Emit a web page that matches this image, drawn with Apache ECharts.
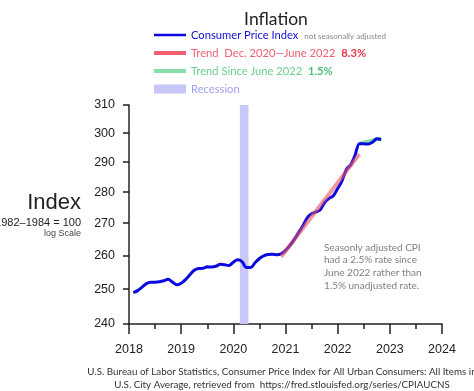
<!DOCTYPE html>
<html>
<head>
<meta charset="utf-8">
<script src="https://cdn.jsdelivr.net/npm/echarts@6/dist/echarts.min.js"></script>
<style>
html,body{margin:0;padding:0;background:#fff;}
#chart{width:474px;height:391px;}
</style>
</head>
<body>
<div id="chart"></div>
<script>
// ---- data ----
const cpiStart = [2018, 2]; // Feb 2018, monthly
const cpiValues = [
  248.991, 249.554, 250.546, 251.588, 251.989, 252.006, 252.146, 252.439, 252.885, 252.038, 251.233,
  251.712, 252.776, 254.202, 255.548, 256.092, 256.143, 256.571, 256.558, 256.759, 257.346, 257.208, 256.974,
  257.971, 258.678, 258.115, 256.389, 256.394, 257.797, 259.101, 259.918, 260.280, 260.388, 260.229, 260.474,
  261.582, 263.014, 264.877, 267.054, 269.195, 271.696, 273.003, 273.567, 274.310, 276.589, 277.948, 278.802,
  281.148, 283.716, 287.504, 289.109, 292.296, 296.311, 296.276, 296.171, 296.808, 298.012, 297.711
];
const trendRedMonths = ['2020-12', '2022-06'];
const trendRedValues = [259.6, 292.7];
const trendGreenMonths = ['2022-06', '2022-11'];
const trendGreenValues = [296.3, 298.1];
const recessionMonths = ['2020-02', '2020-04'];
const xTicks = [2018, 2019, 2020, 2021, 2022, 2023, 2024];
const yTicks = [240, 250, 260, 270, 280, 290, 300, 310];

// ---- helpers ----
const monthToYear = (s) => { const [y, m] = s.split('-').map(Number); return y + (m - 1) / 12; };
const cpiData = cpiValues.map((v, i) => [cpiStart[0] + (cpiStart[1] - 1 + i) / 12, Math.log(v)]);
const redData = trendRedMonths.map((m, i) => [monthToYear(m), Math.log(trendRedValues[i])]);
const greenData = trendGreenMonths.map((m, i) => [monthToYear(m), Math.log(trendGreenValues[i])]);
const recStart = monthToYear(recessionMonths[0]) + 0.5 / 12;
const recEnd = monthToYear(recessionMonths[1]) + 0.5 / 12;

const FONT_LEG = 'Lato';
const FONT_AX = 'Liberation Sans';
const LEG_FS = 11.2;

function mkLegend(name, top, h, rich, fmt) {
  return {
    data: [name], left: 154, top: top, orient: 'vertical',
    icon: 'rect', itemWidth: 32, itemHeight: h, itemGap: 0, padding: 0,
    selectedMode: false,
    formatter: fmt,
    textStyle: { fontFamily: FONT_LEG, fontSize: LEG_FS, lineHeight: 14, rich: rich }
  };
}

const chart = echarts.init(document.getElementById('chart'), null, { renderer: 'canvas' });
chart.setOption({
  animation: false,
  backgroundColor: '#fff',
  title: {
    text: 'Inflation', left: 271, top: 5, textAlign: 'center',
    textStyle: { fontFamily: FONT_LEG, fontSize: 17.5, fontWeight: 'normal', color: '#222' }
  },
  legend: [
    mkLegend('Consumer Price Index', 28, 2.5, {
      a: { fontFamily: FONT_LEG, fontSize: LEG_FS, color: '#1010d8' },
      b: { fontFamily: FONT_LEG, fontSize: 8, color: '#888', padding: [2, 0, 0, 3] }
    }, () => '{a|Consumer Price Index} {b|not seasonally adjusted}'),
    mkLegend('Trend  Dec. 2020—June 2022', 46, 4, {
      a: { fontFamily: FONT_LEG, fontSize: LEG_FS, color: '#f06070' },
      b: { fontFamily: FONT_LEG, fontSize: LEG_FS, color: '#e83848', fontWeight: 'bold' }
    }, () => '{a|Trend  Dec. 2020—June 2022}  {b|8.3%}'),
    mkLegend('Trend Since June 2022', 64, 4, {
      a: { fontFamily: FONT_LEG, fontSize: LEG_FS, color: '#6ccf90' },
      b: { fontFamily: FONT_LEG, fontSize: LEG_FS, color: '#50c078', fontWeight: 'bold' }
    }, () => '{a|Trend Since June 2022}  {b|1.5%}'),
    mkLegend('Recession', 82, 9, {
      a: { fontFamily: FONT_LEG, fontSize: LEG_FS, color: '#a0a0f0' }
    }, () => '{a|Recession}')
  ],
  grid: { left: 129, right: 32, top: 105, bottom: 67 },
  xAxis: {
    type: 'value', min: 2018, max: 2024, interval: 1,
    axisLine: { show: true, lineStyle: { color: '#222', width: 1.5 } },
    axisTick: { show: true, length: 10, lineStyle: { color: '#222', width: 1.5 } },
    minorTick: { show: true, splitNumber: 2, length: 5, lineStyle: { color: '#222', width: 1.5 } },
    splitLine: { show: false },
    axisLabel: {
      margin: 19, fontFamily: FONT_AX, fontSize: 12.5, color: '#222',
      customValues: xTicks, formatter: (v) => String(Math.round(v))
    }
  },
  yAxis: {
    type: 'value', min: Math.log(yTicks[0]), max: Math.log(yTicks[yTicks.length - 1]),
    axisLine: { show: true, lineStyle: { color: '#222', width: 1.5 } },
    axisTick: { show: true, length: 6, customValues: yTicks.map(Math.log), lineStyle: { color: '#222', width: 1.5 } },
    splitLine: { show: false },
    axisLabel: {
      margin: 14, fontFamily: FONT_AX, fontSize: 12.5, color: '#222',
      customValues: yTicks.map(Math.log), formatter: (v) => String(Math.round(Math.exp(v)))
    }
  },
  series: [
    {
      name: 'Recession', type: 'line', data: [], color: '#c8c8f8',
      markArea: { silent: true, itemStyle: { color: '#c8c8f8' },
        data: [[{ xAxis: recStart }, { xAxis: recEnd }]] }
    },
    {
      name: 'Trend Since June 2022', type: 'line', data: greenData, color: '#88e0a8',
      showSymbol: false, lineStyle: { width: 4, color: '#88e0a8' }, z: 2
    },
    {
      name: 'Consumer Price Index', type: 'line', data: cpiData, color: '#0a0ae0',
      showSymbol: false, smooth: 0.3, lineStyle: { width: 3, color: '#0a0ae0' }, z: 3
    },
    {
      name: 'Trend  Dec. 2020—June 2022', type: 'line', data: redData, color: '#f06070',
      showSymbol: false, lineStyle: { width: 4, color: 'rgba(235,80,95,0.6)' }, z: 4
    }
  ],
  graphic: [
    { type: 'text', x: 81, y: 192, style: { text: 'Index', font: '22px "Liberation Sans"', fill: '#222', align: 'right' } },
    { type: 'text', x: 81, y: 217, style: { text: '1982–1984 = 100', font: '11px "Liberation Sans"', fill: '#222', align: 'right' } },
    { type: 'text', x: 81, y: 229, style: { text: 'log Scale', font: '9px "Liberation Sans"', fill: '#444', align: 'right' } },
    { type: 'text', x: 324, y: 241, style: {
        text: 'Seasonly adjusted CPI\nhad a 2.5% rate since\nJune 2022 rather than\n1.5% unadjusted rate.',
        font: '10px Lato', fill: '#808080', lineHeight: 12.8 } },
    { type: 'text', x: 282, y: 366, style: {
        text: 'U.S. Bureau of Labor Statistics, Consumer Price Index for All Urban Consumers: All Items in\nU.S. City Average, retrieved from  https://fred.stlouisfed.org/series/CPIAUCNS',
        font: '9.8px Lato', fill: '#333', lineHeight: 12.5, align: 'center' } }
  ]
});
</script>
</body>
</html>
